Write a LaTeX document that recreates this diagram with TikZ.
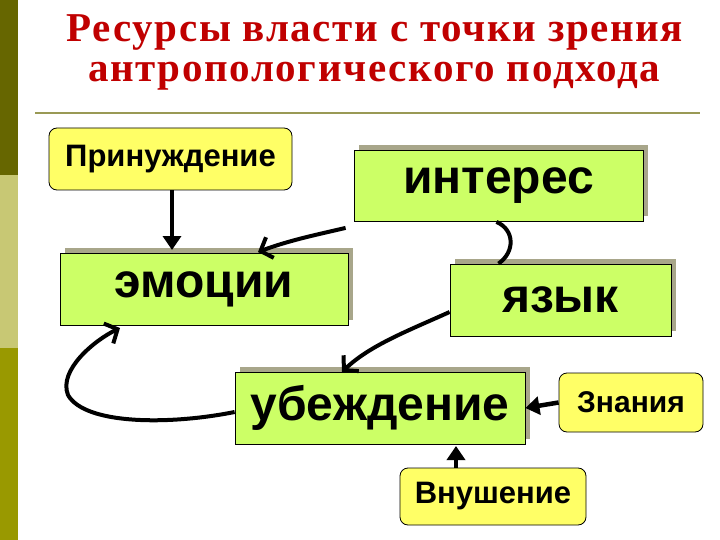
\documentclass[tikz,border=0pt]{standalone}
\usepackage{fontspec}
\setmainfont{Liberation Sans}
\newfontfamily\titlefont[LetterSpace=4]{Liberation Serif}
\usetikzlibrary{shadows,arrows.meta,calc}
\definecolor{boxgreen}{HTML}{CCFF66}
\definecolor{boxyellow}{HTML}{FFFF66}
\definecolor{shadowc}{HTML}{A8A68A}
\definecolor{titlered}{HTML}{C00000}
\definecolor{barA}{HTML}{666600}
\definecolor{barB}{HTML}{C8C874}
\definecolor{barC}{HTML}{999900}
\definecolor{rulec}{HTML}{999955}
\begin{document}
\begin{tikzpicture}[x=1pt,y=-1pt,
  gbox/.style={draw=black,line width=0.8pt,fill=boxgreen,minimum width=#1,inner sep=0pt,
    font=\fontsize{48}{52}\selectfont\bfseries,
    drop shadow={shadow xshift=5pt,shadow yshift=5pt,fill=shadowc,opacity=1}},
  ybox/.style={draw=black,line width=0.8pt,fill=boxyellow,rounded corners=8pt,inner sep=0pt},
  sarrow/.style={line width=4.5pt,-{Triangle[length=14pt,width=18pt]}},
  carrow/.style={line width=4pt,-{Straight Barb[length=10pt,width=22pt,line width=4pt]}},
  cline/.style={line width=4pt},
  ttl/.style={font=\titlefont\fontsize{41}{44}\selectfont\bfseries,text=titlered,inner sep=0pt}]
\useasboundingbox (0,0) rectangle (720,540);
\fill[white] (0,0) rectangle (720,540);
\fill[barA] (0,0) rectangle (18,175);
\fill[barB] (0,175) rectangle (18,348);
\fill[barC] (0,348) rectangle (18,540);
\node[ttl] (t1) at (375,33) {Ресурсы власти с точки зрения};
\node[ttl] (t2) at (374,76) {антропологического подхода};
\draw[rulec,line width=2pt] (35,113) -- (700,113);
\node[ybox,minimum width=243pt,minimum height=62pt,font=\fontsize{31}{34}\selectfont\bfseries] (pr) at (170.5,159) {Принуждение};
\node[gbox=289pt,minimum height=71pt] (int) at (498.5,186) {интерес};
\node[gbox=288pt,minimum height=72pt] (emo) at (204,289) {эмоции};
\node[gbox=221pt,minimum height=72pt] (yaz) at (560.5,300) {язык};
\node[gbox=290pt,minimum height=72pt] (ub) at (380,408) {убеждение};
\node[ybox,minimum width=144pt,minimum height=59pt,font=\fontsize{30}{33}\selectfont\bfseries] (zn) at (631,402.5) {Знания};
\node[ybox,minimum width=186pt,minimum height=57pt,font=\fontsize{31}{34}\selectfont\bfseries] (vn) at (493,496.5) {Внушение};
\draw[sarrow] (pr.south -| 172,0) -- (172,250);
\draw[sarrow] (zn.west) -- (ub.east);
\draw[sarrow] (vn.north -| 456,0) -- (456,446);
\draw[carrow] ($(int.south west)+(-8,6)$) .. controls (320,234) and (290,240) .. (258,252);
\draw[cline] ($(int.south)+(-2,0)$) .. controls (515,230) and (515,252) .. ($(yaz.north)+(-62,0)$);
\draw[carrow] ($(yaz.west)+(0,12)$) .. controls (410,330) and (370,345) .. (342,372);
\draw[carrow] ($(ub.west)+(0,4)$) .. controls (170,425) and (85,425) .. (68,395)
  .. controls (58,370) and (95,340) .. (120,328);
\end{tikzpicture}
\end{document}
